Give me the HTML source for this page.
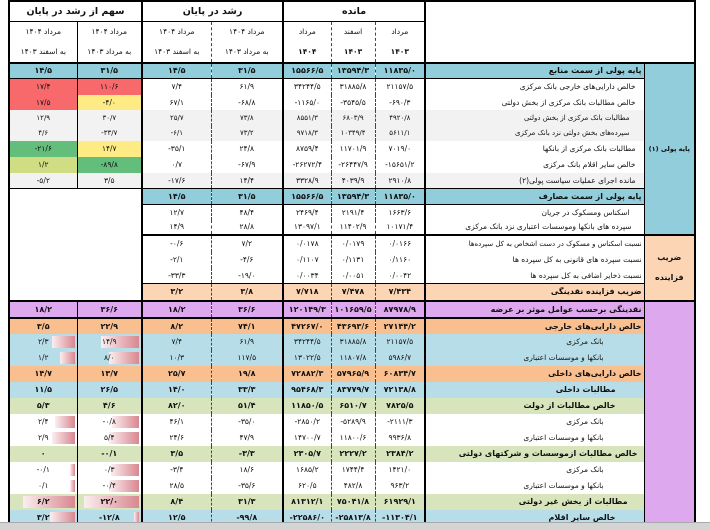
<!DOCTYPE html>
<html><head><meta charset="utf-8">
<style>
html,body{margin:0;padding:0;background:#fff;width:710px;height:528px;overflow:hidden}
table{position:absolute;left:8px;top:0;border-collapse:collapse;table-layout:fixed;width:686px;font-family:"DejaVu Sans","Liberation Sans",sans-serif;font-size:7.5px;color:#111}
td{padding:0;text-align:center;white-space:nowrap;overflow:hidden;vertical-align:middle;position:relative}
col.a{border-left:2px solid #000}
col.b{border-left:1px solid #000}
col.c{border-left:2px solid #000}
col.d{border-left:1px dashed #444}
col.e{border-left:2px solid #000}
col.f{border-left:1px dashed #444}
col.g{border-left:1px dashed #444}
col.l{border-left:2px solid #000}
col.gr{border-left:1px solid #000;border-right:2px solid #000}
td.n{direction:ltr}
td.l{direction:rtl;text-align:right;padding-right:8px}
tr.bd td{font-weight:bold;font-size:8px}
tr.s td{border-top:1px solid #000;border-bottom:1px solid #000}
.hd td{font-weight:bold;font-size:9.5px;border-top:2px solid #000;border-bottom:1px solid #000}
.hd2 td{font-size:7.5px;line-height:20px;border-bottom:2px solid #000}
.bar{position:absolute;right:2px;top:2px;bottom:2px;background:linear-gradient(to right,#fbeef0,#d8878f)}
.tx{position:relative}
.bl td{background:#92cddc}
.lb td{background:#b7dee8}
.or td{background:#fabf8f}
.gn td{background:#d8e4bc}
.pc td{background:#fcd5b4}
.lv td{background:#dda8ee}
.gy td{background:#f2f2f2}
td.gb{background:#92cddc !important;font-weight:bold;font-size:6.5px !important;direction:rtl}
td.gp{background:#fcd5b4 !important;font-weight:bold;font-size:8px;direction:rtl;line-height:20px}
td.gl{background:#dda8ee !important}
td.wb{background:#fff !important;border:2px solid #000}
td.r{background:#f8696b !important}
td.y{background:#ffeb84 !important}
td.g{background:#63be7b !important}
td.yg{background:#d0dd82 !important}
td.w{background:#fff !important}
</style></head><body>
<table>
<colgroup><col class="a" style="width:68px"><col class="b" style="width:65px"><col class="c" style="width:69px"><col class="d" style="width:72px"><col class="e" style="width:48px"><col class="f" style="width:44px"><col class="g" style="width:50px"><col class="l" style="width:219px"><col class="gr" style="width:51px"></colgroup>
<tr class="hd" style="height:20px"><td colspan="2" dir="rtl">سهم از رشد در پایان</td><td colspan="2" dir="rtl">رشد در پایان</td><td colspan="3">مانده</td><td colspan="2" rowspan="2" style="border-bottom:2px solid #000"></td></tr>
<tr class="hd2" style="height:39px"><td dir="rtl">مرداد ۱۴۰۴<br>به اسفند ۱۴۰۳</td><td dir="rtl">مرداد ۱۴۰۴<br>به مرداد ۱۴۰۳</td><td dir="rtl">مرداد ۱۴۰۴<br>به اسفند ۱۴۰۳</td><td dir="rtl">مرداد ۱۴۰۴<br>به مرداد ۱۴۰۳</td><td>مرداد<br><b>۱۴۰۴</b></td><td>اسفند<br><b>۱۴۰۳</b></td><td>مرداد<br><b>۱۴۰۳</b></td></tr>
<tr class="bl bd s" style="height:16px"><td class="n">۱۴/۵</td><td class="n">۳۱/۵</td><td class="n">۱۴/۵</td><td class="n">۳۱/۵</td><td class="n">۱۵۵۶۶/۵</td><td class="n">۱۳۵۹۴/۳</td><td class="n">۱۱۸۳۵/۰</td><td class="l" style="padding-right:2px">پایه پولی از سمت منابع</td><td class="gb" rowspan="11">پایه پولی (۱)</td></tr>
<tr style="height:16px"><td class="n r">۱۷/۴</td><td class="n r">۱۱۰/۶</td><td class="n">۷/۴</td><td class="n">۶۱/۹</td><td class="n">۳۴۲۴۴/۵</td><td class="n">۳۱۸۸۵/۸</td><td class="n">۲۱۱۵۷/۵</td><td class="l">خالص دارایی‌های خارجی بانک مرکزی</td></tr>
<tr style="height:15px"><td class="n r">۱۷/۵</td><td class="n y">-۴/۰</td><td class="n">۶۷/۱</td><td class="n">-۶۸/۸</td><td class="n">-۱۱۶۵/۰</td><td class="n">-۳۵۴۵/۵</td><td class="n">-۶۹۰/۳</td><td class="l">خالص مطالبات بانک مرکزی از بخش دولتی</td></tr>
<tr class="gy" style="height:16px;font-size:7px"><td class="n">۱۲/۹</td><td class="n">۳۰/۷</td><td class="n">۲۵/۷</td><td class="n">۷۳/۸</td><td class="n">۸۵۵۱/۳</td><td class="n">۶۸۰۳/۹</td><td class="n">۴۹۲۰/۸</td><td class="l" style="padding-right:14px">مطالبات بانک مرکزی از بخش دولتی</td></tr>
<tr class="gy" style="height:15px;font-size:7px"><td class="n">۴/۶</td><td class="n">-۳۳/۷</td><td class="n">-۶/۱</td><td class="n">۷۳/۲</td><td class="n">۹۷۱۸/۳</td><td class="n">۱۰۳۴۹/۴</td><td class="n">۵۶۱۱/۱</td><td class="l" style="padding-right:14px">سپرده‌های بخش دولتی نزد بانک مرکزی</td></tr>
<tr style="height:16px"><td class="n g">-۲۱/۶</td><td class="n y">۱۴/۷</td><td class="n">-۳۵/۱</td><td class="n">۲۴/۸</td><td class="n">۸۷۵۹/۴</td><td class="n">۱۱۷۰۱/۹</td><td class="n">۷۰۱۹/۰</td><td class="l">مطالبات بانک مرکزی از بانکها</td></tr>
<tr style="height:16px"><td class="n yg">۱/۲</td><td class="n g">-۸۹/۸</td><td class="n">۰/۷</td><td class="n">-۶۷/۹</td><td class="n">-۲۶۲۷۲/۴</td><td class="n">-۲۶۴۴۷/۹</td><td class="n">-۱۵۶۵۱/۲</td><td class="l">خالص سایر اقلام بانک مرکزی</td></tr>
<tr class="gy" style="height:16px"><td class="n">-۵/۲</td><td class="n">۳/۵</td><td class="n">-۱۷/۶</td><td class="n">۱۴/۴</td><td class="n">۳۳۲۸/۹</td><td class="n">۴۰۳۹/۹</td><td class="n">۲۹۱۰/۸</td><td class="l">مانده اجرای عملیات سیاست پولی(۲)</td></tr>
<tr class="bl bd s" style="height:16px"><td class="wb" colspan="2" rowspan="7"></td><td class="n">۱۴/۵</td><td class="n">۳۱/۵</td><td class="n">۱۵۵۶۶/۵</td><td class="n">۱۳۵۹۴/۳</td><td class="n">۱۱۸۳۵/۰</td><td class="l" style="padding-right:2px">پایه پولی از سمت مصارف</td></tr>
<tr style="height:15px"><td class="n">۱۲/۷</td><td class="n">۴۸/۴</td><td class="n">۲۴۶۹/۴</td><td class="n">۲۱۹۱/۴</td><td class="n">۱۶۶۳/۶</td><td class="l" style="padding-right:14px">اسکناس ومسکوک در جریان</td></tr>
<tr style="height:15px"><td class="n">۱۴/۹</td><td class="n">۲۸/۸</td><td class="n">۱۳۰۹۷/۱</td><td class="n">۱۱۴۰۲/۹</td><td class="n">۱۰۱۷۱/۴</td><td class="l" style="padding-right:12px">سپرده های بانکها وموسسات اعتباری نزد بانک مرکزی</td></tr>
<tr style="height:17px"><td class="n" style="border-top:2px solid #000">-۰/۶</td><td class="n" style="border-top:2px solid #000">۷/۲</td><td class="n" style="border-top:2px solid #000">۰/۰۱۷۸</td><td class="n" style="border-top:2px solid #000">۰/۰۱۷۹</td><td class="n" style="border-top:2px solid #000">۰/۰۱۶۶</td><td class="l" style="padding-right:2px;border-top:2px solid #000;font-size:7px">نسبت اسکناس و مسکوک در دست اشخاص به کل سپرده‌ها</td><td class="gp" rowspan="4" style="border-top:2px solid #000">ضریب<br>فزاینده</td></tr>
<tr style="height:16px"><td class="n">-۲/۱</td><td class="n">-۴/۶</td><td class="n">۰/۱۱۰۷</td><td class="n">۰/۱۱۳۱</td><td class="n">۰/۱۱۶۰</td><td class="l" style="padding-right:2px">نسبت سپرده های قانونی به کل سپرده ها</td></tr>
<tr style="height:16px"><td class="n">-۳۳/۳</td><td class="n">-۱۹/۰</td><td class="n">۰/۰۰۳۴</td><td class="n">۰/۰۰۵۱</td><td class="n">۰/۰۰۴۲</td><td class="l" style="padding-right:2px">نسبت ذخایر اضافی به کل سپرده ها</td></tr>
<tr class="pc bd s" style="height:17px"><td class="n">۳/۲</td><td class="n">۳/۸</td><td class="n">۷/۷۱۸</td><td class="n">۷/۴۷۸</td><td class="n">۷/۴۳۴</td><td class="l" style="padding-right:2px">ضریب فزاینده نقدینگی</td></tr>
<tr class="lv bd" style="height:17px"><td class="n" style="border-top:2px solid #000;border-bottom:2px solid #000">۱۸/۲</td><td class="n" style="border-top:2px solid #000;border-bottom:2px solid #000">۳۶/۶</td><td class="n" style="border-top:2px solid #000;border-bottom:2px solid #000">۱۸/۲</td><td class="n" style="border-top:2px solid #000;border-bottom:2px solid #000">۳۶/۶</td><td class="n" style="border-top:2px solid #000;border-bottom:2px solid #000">۱۲۰۱۴۹/۳</td><td class="n" style="border-top:2px solid #000;border-bottom:2px solid #000">۱۰۱۶۵۹/۵</td><td class="n" style="border-top:2px solid #000;border-bottom:2px solid #000">۸۷۹۷۸/۹</td><td class="l" style="padding-right:2px;border-top:2px solid #000;border-bottom:2px solid #000">نقدینگی برحسب عوامل موثر بر عرضه</td><td class="gl" rowspan="15" style="border-top:2px solid #000"></td></tr>
<tr class="or bd" style="height:16px"><td class="n">۳/۵</td><td class="n">۲۲/۹</td><td class="n">۸/۲</td><td class="n">۷۴/۱</td><td class="n">۴۷۲۶۷/۰</td><td class="n">۴۳۶۹۳/۶</td><td class="n">۲۷۱۴۴/۲</td><td class="l" style="padding-right:2px">خالص دارایی‌های خارجی</td></tr>
<tr class="lb" style="height:16px"><td class="n"><div class="bar" style="width:23px"></div><span class="tx">۲/۳</span></td><td class="n"><div class="bar" style="width:38px"></div><span class="tx">۱۴/۹</span></td><td class="n">۷/۴</td><td class="n">۶۱/۹</td><td class="n">۳۴۲۴۴/۵</td><td class="n">۳۱۸۸۵/۸</td><td class="n">۲۱۱۵۷/۵</td><td class="l" style="padding-right:40px">بانک مرکزی</td></tr>
<tr class="lb" style="height:16px"><td class="n"><div class="bar" style="width:15px"></div><span class="tx">۱/۲</span></td><td class="n"><div class="bar" style="width:30px"></div><span class="tx">۸/۰</span></td><td class="n">۱۰/۳</td><td class="n">۱۱۷/۵</td><td class="n">۱۳۰۲۲/۵</td><td class="n">۱۱۸۰۷/۸</td><td class="n">۵۹۸۶/۷</td><td class="l" style="padding-right:40px">بانکها و موسسات اعتباری</td></tr>
<tr class="or bd" style="height:16px"><td class="n">۱۴/۷</td><td class="n">۱۳/۷</td><td class="n">۲۵/۷</td><td class="n">۱۹/۸</td><td class="n">۷۲۸۸۲/۳</td><td class="n">۵۷۹۶۵/۹</td><td class="n">۶۰۸۳۴/۷</td><td class="l" style="padding-right:2px">خالص دارایی‌های داخلی</td></tr>
<tr class="lb bd" style="height:16px"><td class="n">۱۱/۵</td><td class="n">۲۶/۵</td><td class="n">۱۴/۰</td><td class="n">۳۳/۳</td><td class="n">۹۵۴۶۸/۳</td><td class="n">۸۳۷۷۹/۷</td><td class="n">۷۲۱۳۸/۸</td><td class="l" style="padding-right:28px">مطالبات داخلی</td></tr>
<tr class="gn bd" style="height:16px"><td class="n">۵/۳</td><td class="n">۴/۶</td><td class="n">۸۲/۰</td><td class="n">۵۱/۴</td><td class="n">۱۱۸۵۰/۵</td><td class="n">۶۵۱۰/۷</td><td class="n">۷۸۲۵/۵</td><td class="l" style="padding-right:28px">خالص مطالبات از دولت</td></tr>
<tr style="height:16px"><td class="n"><div class="bar" style="width:20px"></div><span class="tx">۲/۴</span></td><td class="n"><div class="bar" style="width:27px"></div><span class="tx">-۰/۸</span></td><td class="n">۴۶/۱</td><td class="n">-۳۵/۰</td><td class="n">-۲۸۵۰/۲</td><td class="n">-۵۲۸۹/۹</td><td class="n">-۲۱۱۱/۳</td><td class="l" style="padding-right:40px">بانک مرکزی</td></tr>
<tr style="height:16px"><td class="n"><div class="bar" style="width:23px"></div><span class="tx">۲/۹</span></td><td class="n"><div class="bar" style="width:30px"></div><span class="tx">۵/۴</span></td><td class="n">۲۴/۶</td><td class="n">۴۷/۹</td><td class="n">۱۴۷۰۰/۷</td><td class="n">۱۱۸۰۰/۶</td><td class="n">۹۹۳۶/۸</td><td class="l" style="padding-right:40px">بانکها و موسسات اعتباری</td></tr>
<tr class="gn bd" style="height:16px"><td class="n">۰</td><td class="n">-۰/۱</td><td class="n">۳/۵</td><td class="n">-۳/۳</td><td class="n">۲۳۰۵/۷</td><td class="n">۲۲۲۷/۲</td><td class="n">۲۳۸۴/۲</td><td class="l" style="padding-right:6px">خالص مطالبات ازموسسات و شرکتهای دولتی</td></tr>
<tr style="height:16px"><td class="n"><div class="bar" style="width:5px"></div><span class="tx">-۰/۱</span></td><td class="n"><div class="bar" style="width:28px"></div><span class="tx">۰/۳</span></td><td class="n">-۳/۴</td><td class="n">۱۸/۶</td><td class="n">۱۶۸۵/۲</td><td class="n">۱۷۴۴/۴</td><td class="n">۱۴۲۱/۰</td><td class="l" style="padding-right:40px">بانک مرکزی</td></tr>
<tr style="height:16px"><td class="n"><div class="bar" style="width:5px"></div><span class="tx">۰/۱</span></td><td class="n"><div class="bar" style="width:30px"></div><span class="tx">-۰/۴</span></td><td class="n">۲۸/۵</td><td class="n">-۳۵/۶</td><td class="n">۶۲۰/۵</td><td class="n">۴۸۲/۸</td><td class="n">۹۶۳/۲</td><td class="l" style="padding-right:40px">بانکها و موسسات اعتباری</td></tr>
<tr class="gn bd" style="height:16px"><td class="n"><div class="bar" style="width:52px"></div><span class="tx">۶/۲</span></td><td class="n"><div class="bar" style="width:55px"></div><span class="tx">۲۲/۰</span></td><td class="n">۸/۴</td><td class="n">۳۱/۳</td><td class="n">۸۱۳۱۲/۱</td><td class="n">۷۵۰۴۱/۸</td><td class="n">۶۱۹۲۹/۱</td><td class="l" style="padding-right:16px">مطالبات از بخش غیر دولتی</td></tr>
<tr class="lb bd" style="height:16px"><td class="n"><div class="bar" style="width:25px"></div><span class="tx">۳/۲</span></td><td class="n"><div class="bar" style="width:5px"></div><span class="tx">-۱۲/۸</span></td><td class="n">۱۲/۵</td><td class="n">-۹۹/۸</td><td class="n">-۲۲۵۸۶/۰</td><td class="n">-۲۵۸۱۳/۸</td><td class="n">-۱۱۳۰۴/۱</td><td class="l" style="padding-right:28px">خالص سایر اقلام</td></tr>
</table>
<div style="position:absolute;left:0;top:522px;width:710px;height:6px;background:#d4d4d4;border-top:1px solid #aaa"></div>
</body></html>
